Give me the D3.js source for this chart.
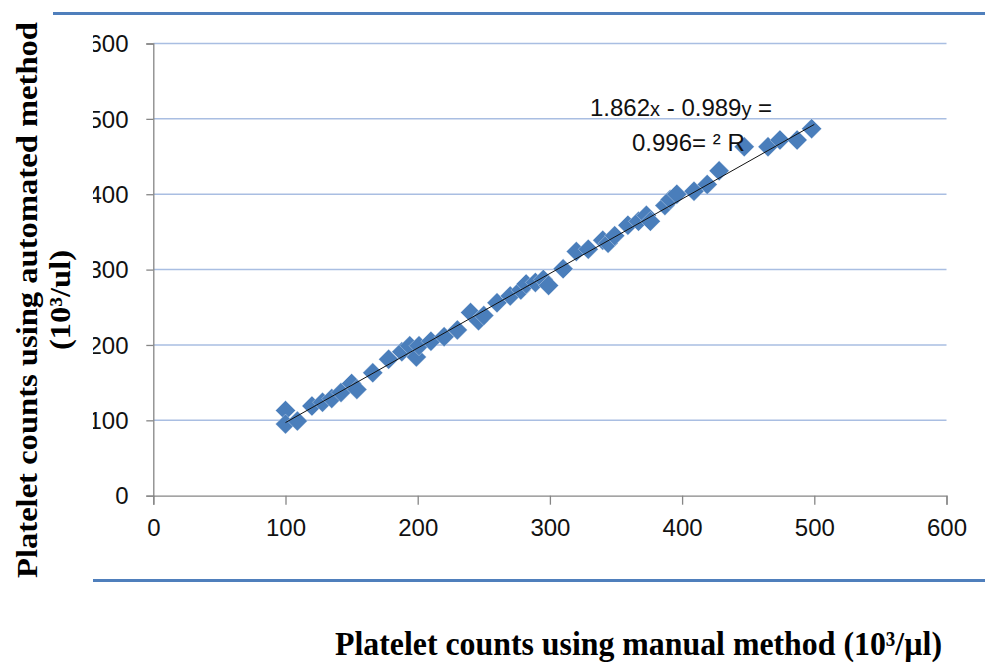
<!DOCTYPE html>
<html>
<head>
<meta charset="utf-8">
<script src="https://cdn.jsdelivr.net/npm/d3@7"></script>
<style>
  html, body { margin: 0; padding: 0; background: #fff; }
  svg { display: block; }
</style>
</head>
<body>
<svg id="chart" width="985" height="664"></svg>
<script>
// ---- data ----
const manualCounts = [100, 100, 109, 120, 128, 135, 142, 150, 154, 166, 178, 188, 194, 199, 201, 210, 220, 230, 240, 246, 250, 260, 270, 278, 282, 289, 295, 299, 310, 320, 329, 340, 344, 349, 359, 367, 373, 376, 387, 391, 396, 409, 419, 428, 447, 465, 474, 487, 498];
const automatedCounts = [113, 95, 99, 119, 124, 129, 137, 149, 141, 163, 181, 191, 199, 184, 199, 205, 211, 220, 243, 232, 239, 256, 265, 273, 281, 283, 287, 279, 301, 324, 327, 339, 335, 345, 359, 364, 372, 364, 385, 393, 400, 404, 413, 431, 463, 463, 472, 472, 487];
const xTicks = [0, 100, 200, 300, 400, 500, 600];
const yTicks = [0, 100, 200, 300, 400, 500, 600];
const trendSlope = 0.989;
const trendIntercept = -1.862;
const trendRange = [100, 500];
const equationLine1 = ["1.862", "x", " - 0.989", "y", " ="];
const equationLine2 = "0.996= ² R";
const xTitle = "Platelet counts using manual method (10³/µl)";
const yTitle1 = "Platelet counts using automated method";
const yTitle2 = "(10³/ul)";

// ---- layout ----
const svg = d3.select("#chart");
const x = d3.scaleLinear().domain([0, 600]).range([153.3, 946.5]);
const y = d3.scaleLinear().domain([0, 600]).range([495.7, 43.5]);

const points = manualCounts.map((m, i) => ({ m, a: automatedCounts[i] }));

svg.append("defs").append("clipPath").attr("id", "ylabclip")
  .append("rect").attr("x", 93).attr("y", 0).attr("width", 200).attr("height", 664);

// decorative blue rules
svg.append("line").attr("x1", 53).attr("x2", 985).attr("y1", 13.5).attr("y2", 13.5)
  .attr("stroke", "#4f7fbc").attr("stroke-width", 3);
svg.append("line").attr("x1", 93).attr("x2", 985).attr("y1", 580.5).attr("y2", 580.5)
  .attr("stroke", "#4f7fbc").attr("stroke-width", 3);

// gridlines
svg.append("g").selectAll("line").data(yTicks.filter(d => d > 0)).join("line")
  .attr("x1", x(0)).attr("x2", x(600))
  .attr("y1", d => y(d)).attr("y2", d => y(d))
  .attr("stroke", "#a9bee2").attr("stroke-width", 1.5);

// y axis
const yAxis = svg.append("g").attr("transform", `translate(${x(0)},0)`)
  .call(d3.axisLeft(y).tickValues(yTicks).tickSize(7).tickFormat(d3.format("d")));
yAxis.select(".domain").attr("stroke", "#868686").attr("stroke-width", 1.3);
yAxis.selectAll(".tick line").attr("stroke", "#868686").attr("stroke-width", 1.3);
yAxis.selectAll(".tick text").remove();
const yLabelLayer = svg.append("g").attr("clip-path", "url(#ylabclip)");
yLabelLayer.selectAll("text").data(yTicks).join("text")
  .attr("x", 128.5).attr("y", d => y(d)).attr("dy", "0.36em")
  .attr("text-anchor", "end")
  .attr("font-family", "'Liberation Sans', Arial, sans-serif")
  .attr("font-size", 24).attr("fill", "#111")
  .text(d => d3.format("d")(d));

// x axis
const xAxis = svg.append("g").attr("transform", `translate(0,${y(0)})`)
  .call(d3.axisBottom(x).tickValues(xTicks).tickSize(9).tickPadding(14).tickFormat(d3.format("d")));
xAxis.select(".domain").attr("stroke", "#868686").attr("stroke-width", 1.3);
xAxis.selectAll(".tick line").attr("stroke", "#868686").attr("stroke-width", 1.3);
xAxis.selectAll(".tick text")
  .attr("font-family", "'Liberation Sans', Arial, sans-serif")
  .attr("font-size", 24).attr("fill", "#111");

// points (diamonds)
const diamond = d3.symbol().type(d3.symbolSquare).size(200);
svg.append("g").selectAll("path").data(points).join("path")
  .attr("d", diamond)
  .attr("transform", d => `translate(${x(d.m)},${y(d.a)}) rotate(45)`)
  .attr("fill", "#4a7ebb")
  .attr("stroke", "#ffffff").attr("stroke-width", 0.6).attr("stroke-opacity", 0.5);

// trend line
svg.append("line")
  .attr("x1", x(trendRange[0])).attr("y1", y(trendSlope * trendRange[0] + trendIntercept))
  .attr("x2", x(trendRange[1])).attr("y2", y(trendSlope * trendRange[1] + trendIntercept))
  .attr("stroke", "#111").attr("stroke-width", 1);

// equation
const eq1 = svg.append("text").attr("x", 590).attr("y", 116)
  .attr("font-family", "'Liberation Sans', Arial, sans-serif").attr("font-size", 24).attr("fill", "#111");
eq1.selectAll("tspan").data(equationLine1).join("tspan")
  .attr("font-size", s => (s === "x" || s === "y") ? 20 : 24).text(s => s);
svg.append("text").attr("x", 632).attr("y", 151)
  .attr("font-family", "'Liberation Sans', Arial, sans-serif").attr("font-size", 24).attr("fill", "#111")
  .text(equationLine2);

// x title
svg.append("text").attr("x", 335).attr("y", 655)
  .attr("font-family", "'Liberation Serif', 'Times New Roman', serif")
  .attr("font-weight", "bold").attr("font-size", 34).attr("fill", "#000")
  .attr("textLength", 607).attr("lengthAdjust", "spacingAndGlyphs")
  .text(xTitle);

// y title
const yt = svg.append("g").attr("transform", "translate(37,300) rotate(-90)");
yt.append("text").attr("x", 0).attr("y", 0).attr("text-anchor", "middle")
  .attr("font-family", "'Liberation Serif', 'Times New Roman', serif")
  .attr("font-weight", "bold").attr("font-size", 30).attr("fill", "#000")
  .attr("textLength", 556).attr("lengthAdjust", "spacingAndGlyphs")
  .text(yTitle1);
yt.append("text").attr("x", 0).attr("y", 33).attr("text-anchor", "middle")
  .attr("font-family", "'Liberation Serif', 'Times New Roman', serif")
  .attr("font-weight", "bold").attr("font-size", 30).attr("fill", "#000")
  .attr("textLength", 100).attr("lengthAdjust", "spacingAndGlyphs")
  .text(yTitle2);
</script>
</body>
</html>
